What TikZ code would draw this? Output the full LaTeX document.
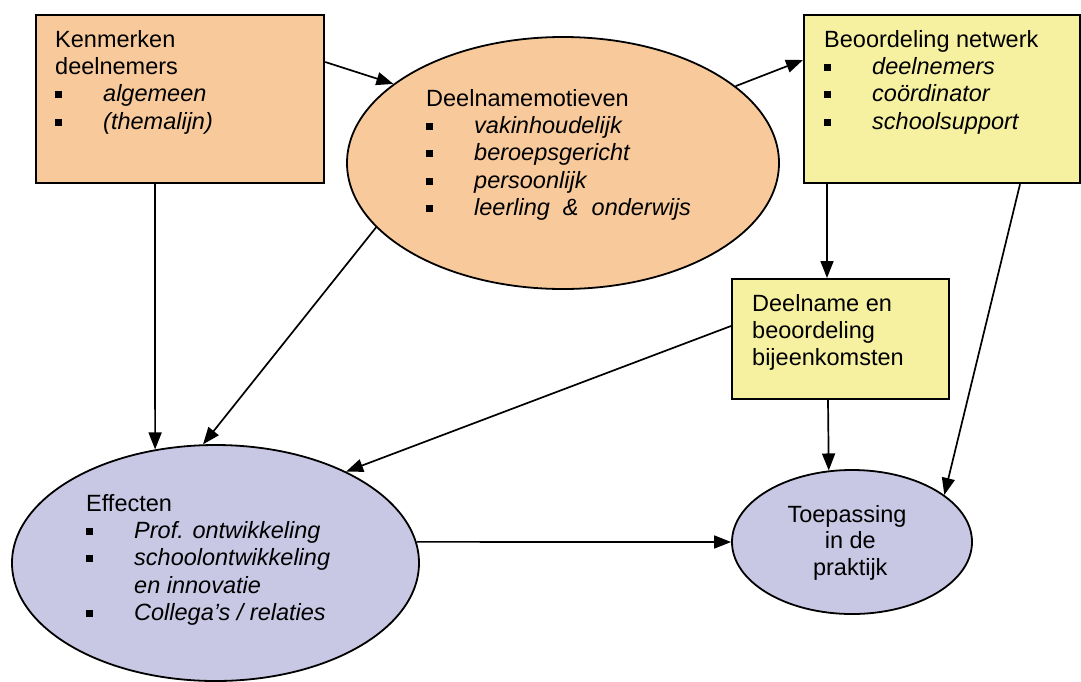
\documentclass[tikz,border=0pt]{standalone}
\usepackage{fontspec}
\setmainfont{Liberation Sans}
\usetikzlibrary{shapes.geometric,arrows.meta,calc}
\definecolor{peach}{RGB}{248,202,155}
\definecolor{paleyellow}{RGB}{246,241,161}
\definecolor{lavender}{RGB}{201,200,228}
\newcommand\bul{\rule[3.5pt]{7pt}{7pt}}
\newcommand\bl[1]{\hbox{\makebox[48pt][l]{\bul}\itshape #1}}
\newcommand\cl[1]{\hbox{\makebox[48pt][l]{}\itshape #1}}
\newcommand\pl[1]{\hbox{#1}}
\tikzset{
  rbox/.style={draw=black,line width=2.2pt,rectangle,inner sep=0pt,anchor=north west},
  ell/.style={draw=black,line width=1.8pt,ellipse,inner sep=0pt},
  txt/.style={inner sep=0pt,anchor=base west,font=\fontsize{23.5}{27.4}\selectfont},
  arr/.style={line width=1.7pt,-{Triangle[length=17pt,width=13pt]}}
}
\begin{document}
\begin{tikzpicture}[x=1pt,y=-1pt]
\useasboundingbox (0,0) rectangle (1081,681);
% shapes
\node[rbox,fill=peach,minimum width=288,minimum height=168] (km) at (35,14) {};
\node[ell,fill=peach,minimum width=432,minimum height=252] (mot) at (563,163) {};
\node[rbox,fill=paleyellow,minimum width=276,minimum height=168] (nw) at (803,14) {};
\node[rbox,fill=paleyellow,minimum width=217,minimum height=120] (bij) at (731,278) {};
\node[ell,fill=lavender,minimum width=407,minimum height=236] (eff) at (215.5,563) {};
\node[ell,fill=lavender,minimum width=240,minimum height=144] (toe) at (852,542) {};
% texts
\node[txt] (kmt) at (55,47) {\vtop{\pl{Kenmerken}\pl{deelnemers}\bl{algemeen}\bl{(themalijn)}}};
\node[txt] (mott) at (426,106) {\vtop{\pl{Deelnamemotieven}\bl{vakinhoudelijk}\bl{beroepsgericht}\bl{persoonlijk}\bl{leerling\ \ \&\ \ onderwijs}}};
\node[txt] (nwt) at (824,47) {\vtop{\pl{Beoordeling netwerk}\bl{deelnemers}\bl{coördinator}\bl{schoolsupport}}};
\node[txt] (bijt) at (752,311) {\vtop{\pl{Deelname en}\pl{beoordeling}\pl{bijeenkomsten}}};
\node[txt] (efft) at (86,511) {\vtop{\pl{Effecten}\bl{Prof. ontwikkeling}\bl{schoolontwikkeling}\cl{en innovatie}\bl{Collega’s / relaties}}};
\node[txt,anchor=base,font=\fontsize{23.5}{26.5}\selectfont] (toet) at (847,522) {\vtop{\halign{\hfil#\hfil\cr Toepassing\cr \ in de\cr \ praktijk\cr}}};
% connectors
\draw[arr] ($(km.north east)+(0,48)$) -- (mot.155.6);
\draw[arr] (mot.24.8) -- ($(nw.north west)+(0,46)$);
\draw[arr] ($(km.south west)+(120,0)$) -- (eff.118.2);
\draw[arr] (mot.199.7) -- (eff.96);
\draw[arr] ($(nw.south west)+(24,0)$) -- ($(bij.north west)+(96,0)$);
\draw[arr] ($(bij.north west)+(0,48)$) -- (eff.35.2);
\draw[arr] ($(bij.south west)+(97,0)$) -- (toe.108.8);
\draw[arr] ($(nw.south west)+(217,0)$) -- (toe.27.5);
\draw[arr] (eff.6) -- (toe.west);
\end{tikzpicture}
\end{document}
